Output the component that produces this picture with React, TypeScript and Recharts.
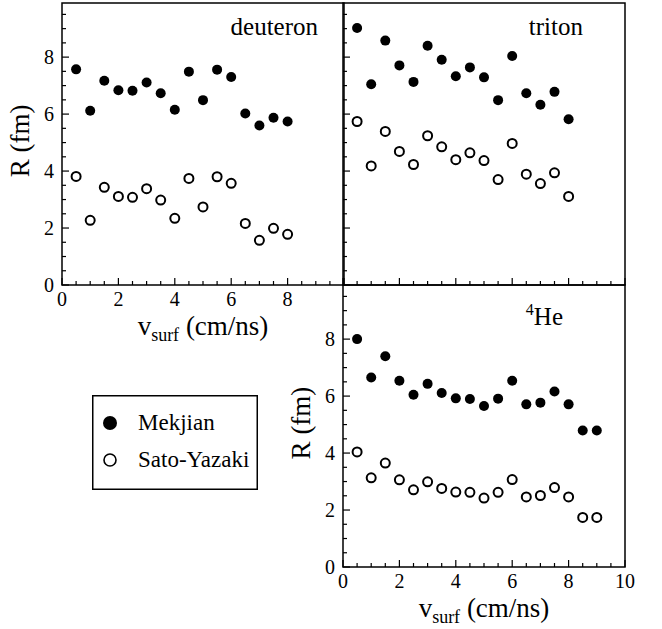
import React from "react";
import {
  ScatterChart,
  Scatter,
  XAxis,
  YAxis,
  ReferenceArea,
  Legend,
} from "recharts";

const FONT = '"Liberation Serif", "Times New Roman", serif';

// surface velocity (cm/ns)
const vSurf = [0.5, 1, 1.5, 2, 2.5, 3, 3.5, 4, 4.5, 5, 5.5, 6, 6.5, 7, 7.5, 8];
const vSurfHe = [0.5, 1, 1.5, 2, 2.5, 3, 3.5, 4, 4.5, 5, 5.5, 6, 6.5, 7, 7.5, 8, 8.5, 9];

// R (fm)
const deuteronMekjian = [7.57, 6.12, 7.17, 6.84, 6.82, 7.11, 6.73, 6.15, 7.49, 6.49, 7.56, 7.3, 6.02, 5.6, 5.87, 5.74];
const deuteronSato = [3.81, 2.27, 3.43, 3.11, 3.08, 3.38, 2.98, 2.34, 3.74, 2.74, 3.8, 3.57, 2.16, 1.57, 1.99, 1.78];
const tritonMekjian = [9.02, 7.05, 8.58, 7.71, 7.13, 8.4, 7.91, 7.33, 7.64, 7.29, 6.49, 8.04, 6.73, 6.33, 6.78, 5.82];
const tritonSato = [5.74, 4.18, 5.39, 4.69, 4.23, 5.24, 4.85, 4.4, 4.64, 4.37, 3.7, 4.97, 3.89, 3.56, 3.94, 3.11];
const heMekjian = [8.0, 6.65, 7.4, 6.54, 6.05, 6.43, 6.11, 5.92, 5.9, 5.65, 5.91, 6.54, 5.71, 5.77, 6.16, 5.71, 4.79, 4.79];
const heSato = [4.04, 3.13, 3.65, 3.06, 2.71, 2.99, 2.76, 2.63, 2.62, 2.42, 2.62, 3.07, 2.46, 2.51, 2.79, 2.46, 1.74, 1.74];

const xTicks = [0, 0.5, 1, 1.5, 2, 2.5, 3, 3.5, 4, 4.5, 5, 5.5, 6, 6.5, 7, 7.5, 8, 8.5, 9, 9.5, 10];
const yTicks = [0, 0.5, 1, 1.5, 2, 2.5, 3, 3.5, 4, 4.5, 5, 5.5, 6, 6.5, 7, 7.5, 8, 8.5, 9, 9.5];
const X_MAX = 10;
const Y_MAX = 9.9;

const toPoints = (xs: number[], ys: number[]) => xs.map((x, i) => ({ x, y: ys[i] }));

const isMajor = (v: number) => v % 2 === 0;

function XTick({ x, y, payload, labels, labelMax }: any) {
  const major = isMajor(payload.value);
  return (
    <g>
      <line x1={x} x2={x} y1={y} y2={y - (major ? 7 : 4)} stroke="#000" strokeWidth={1.2} />
      {labels && major && payload.value <= labelMax && (
        <text x={x} y={y + 21} textAnchor="middle" fontSize={20} fontFamily={FONT} fill="#000">
          {payload.value}
        </text>
      )}
    </g>
  );
}

function YTick({ x, y, payload, labels }: any) {
  const major = isMajor(payload.value);
  return (
    <g>
      <line x1={x} x2={x + (major ? 7 : 4)} y1={y} y2={y} stroke="#000" strokeWidth={1.2} />
      {labels && major && (
        <text x={x - 8} y={y + 7} textAnchor="end" fontSize={20} fontFamily={FONT} fill="#000">
          {payload.value}
        </text>
      )}
    </g>
  );
}

const XTitle = ({ viewBox }: any) => (
  <text
    x={viewBox.x + viewBox.width / 2}
    y={viewBox.y + 50}
    textAnchor="middle"
    fontSize={27}
    fontFamily={FONT}
    fill="#000"
  >
    <tspan>v</tspan>
    <tspan dy={6} fontSize={18}>surf</tspan>
    <tspan dy={-6}> (cm/ns)</tspan>
  </text>
);

const YTitle = ({ viewBox }: any) => {
  const cx = viewBox.x + viewBox.width - 33;
  const cy = viewBox.y + viewBox.height / 2 - 3;
  return (
    <text
      x={cx}
      y={cy}
      transform={`rotate(-90 ${cx} ${cy})`}
      textAnchor="middle"
      fontSize={27}
      fontFamily={FONT}
      fill="#000"
    >
      R (fm)
    </text>
  );
};

const panelTitle = (name: string, right: number, down: number, sup?: string) => ({ viewBox }: any) => (
  <text
    x={viewBox.x + viewBox.width - right}
    y={viewBox.y + down}
    textAnchor="end"
    fontSize={25}
    fontFamily={FONT}
    fill="#000"
  >
    {sup && (
      <tspan fontSize={16} dy={-10}>
        {sup}
      </tspan>
    )}
    <tspan dy={sup ? 10 : 0}>{name}</tspan>
  </text>
);

const FilledDot = ({ cx, cy }: any) => <circle cx={cx} cy={cy} r={5} fill="#000" />;
const OpenDot = ({ cx, cy }: any) => (
  <circle cx={cx} cy={cy} r={4.5} fill="#fff" stroke="#000" strokeWidth={2} />
);

const LegendBox = ({ payload }: any) => (
  <svg width={166} height={95} style={{ display: "block" }}>
    <rect x={0.75} y={0.75} width={164.5} height={93.5} fill="#fff" stroke="#000" strokeWidth={1.5} />
    {(payload || []).map((p: any, i: number) => (
      <g key={p.value}>
        {i === 0 ? (
          <circle cx={18} cy={28 + i * 37} r={7} fill="#000" />
        ) : (
          <circle cx={18} cy={28 + i * 37} r={6} fill="#fff" stroke="#000" strokeWidth={1.6} />
        )}
        <text x={46} y={35 + i * 37} fontSize={23} fontFamily={FONT} fill="#000">
          {p.value}
        </text>
      </g>
    ))}
  </svg>
);

function Panel({
  width,
  height,
  margin,
  mekjian,
  sato,
  xs,
  labels,
  labelMax = 10,
  title,
  legend,
}: any) {
  return (
    <ScatterChart width={width} height={height} margin={margin}>
      <XAxis
        type="number"
        dataKey="x"
        domain={[0, X_MAX]}
        ticks={xTicks}
        interval={0}
        height={1}
        tickSize={0}
        tickMargin={0}
        axisLine={false}
        tickLine={false}
        tick={(p: any) => <XTick {...p} labels={labels} labelMax={labelMax} />}
        allowDataOverflow
        label={labels ? XTitle : undefined}
      />
      <YAxis
        type="number"
        dataKey="y"
        domain={[0, Y_MAX]}
        ticks={yTicks}
        interval={0}
        width={1}
        tickSize={0}
        tickMargin={0}
        axisLine={false}
        tickLine={false}
        tick={(p: any) => <YTick {...p} labels={labels} />}
        allowDataOverflow
        label={labels ? YTitle : undefined}
      />
      <Scatter
        name="Mekjian"
        data={toPoints(xs, mekjian)}
        shape={FilledDot}
        fill="#000"
        isAnimationActive={false}
      />
      <Scatter
        name="Sato-Yazaki"
        data={toPoints(xs, sato)}
        shape={OpenDot}
        fill="#fff"
        isAnimationActive={false}
      />
      <ReferenceArea
        x1={0}
        x2={X_MAX}
        y1={0}
        y2={Y_MAX}
        fill="none"
        stroke="#000"
        strokeWidth={1.5}
        label={title}
      />
      {legend && (
        <Legend
          verticalAlign="middle"
          align="center"
          layout="horizontal"
          wrapperStyle={{ left: 92, top: 115, width: 166, height: 95 }}
          content={LegendBox}
        />
      )}
    </ScatterChart>
  );
}

export default function App() {
  return (
    <div
      style={{
        position: "absolute",
        left: 0,
        top: 0,
        width: 662,
        height: 629,
        background: "#fff",
        fontFamily: FONT,
      }}
    >
      <div style={{ position: "absolute", left: 0, top: 0 }}>
        <Panel
          width={350}
          height={345}
          margin={{ top: 3, right: 6, left: 61, bottom: 59 }}
          xs={vSurf}
          mekjian={deuteronMekjian}
          sato={deuteronSato}
          labels
          labelMax={8}
          title={panelTitle("deuteron", 26, 32)}
        />
      </div>
      <div style={{ position: "absolute", left: 340, top: 0 }}>
        <Panel
          width={322}
          height={300}
          margin={{ top: 3, right: 37, left: 2, bottom: 14 }}
          xs={vSurf}
          mekjian={tritonMekjian}
          sato={tritonSato}
          labels={false}
          title={panelTitle("triton", 42, 32)}
        />
      </div>
      <div style={{ position: "absolute", left: 0, top: 280 }}>
        <Panel
          width={662}
          height={349}
          margin={{ top: 5, right: 37, left: 342, bottom: 61 }}
          xs={vSurfHe}
          mekjian={heMekjian}
          sato={heSato}
          labels
          legend
          title={panelTitle("He", 62, 40, "4")}
        />
      </div>
    </div>
  );
}
